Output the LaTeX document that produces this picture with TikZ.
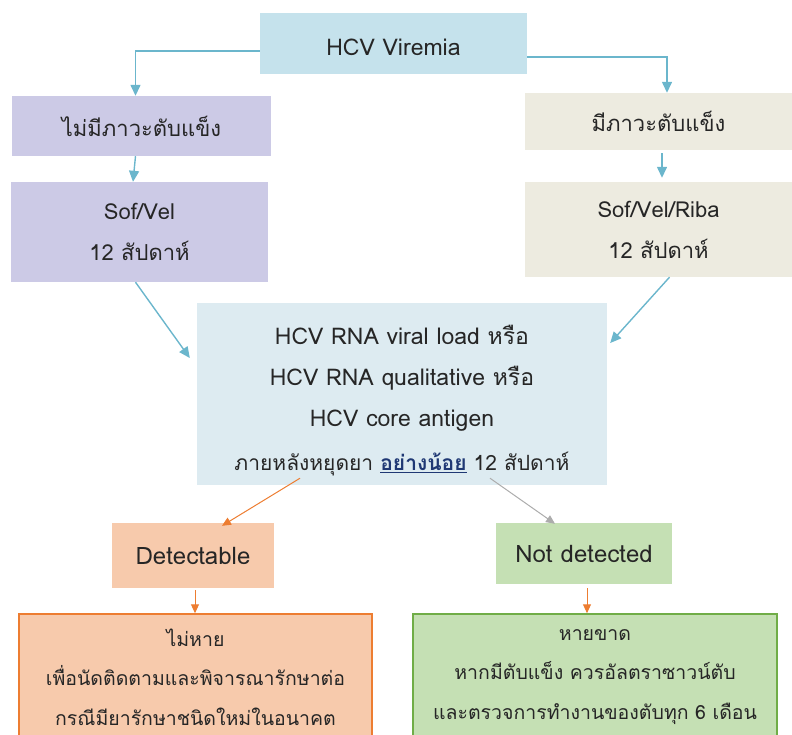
\documentclass[tikz,border=0pt]{standalone}
\usepackage{fontspec}
\setmainfont{Loma}[Script=Thai]
\usepackage{tikz}
\usetikzlibrary{arrows.meta}
\definecolor{viremia}{HTML}{C5E2EC}
\definecolor{lavender}{HTML}{CCCAE6}
\definecolor{beige}{HTML}{EDEBE0}
\definecolor{testblue}{HTML}{DDEBF1}
\definecolor{peach}{HTML}{F7CAAC}
\definecolor{mint}{HTML}{C5E0B4}
\definecolor{arrowblue}{HTML}{6BB6CC}
\definecolor{orange9}{HTML}{ED7D31}
\definecolor{green9}{HTML}{70AD47}
\definecolor{navy9}{HTML}{1F3874}

\begin{document}
\begin{tikzpicture}
  [x=1pt, y=-1pt,
   box/.style={inner sep=0pt, align=center, text=black!85,
               font=\fontsize{22}{41}\selectfont},
   conn/.style={-{Triangle[width=10pt,length=11pt]}, arrowblue, line width=1.4pt},
   hotconn/.style={-{Triangle[width=8pt,length=9pt]}, orange9, line width=1pt},
   coldconn/.style={-{Triangle[width=8pt,length=9pt]}, gray!65, line width=1pt}]

  \clip (0,0) rectangle (792,734);
  \useasboundingbox (0,0) rectangle (792,734);

  %Top and branch boxes
  \node[box, fill=viremia, minimum width=267pt, minimum height=61pt, text height=24pt, text depth=0pt,
        font=\fontsize{23}{26}\selectfont] (viremia) at (393.5,43.5) {HCV Viremia};
  \node[box, fill=lavender, minimum width=259pt, minimum height=60pt] (nocirr) at (141.5,126) {ไม่มีภาวะตับแข็ง};
  \node[box, fill=beige, minimum width=267pt, minimum height=57pt] (cirr) at (658.5,121.5) {มีภาวะตับแข็ง};
  \node[box, fill=lavender, minimum width=257pt, minimum height=100pt] (sofvel) at (139.5,232) {Sof/Vel\\12 สัปดาห์};
  \node[box, fill=beige, minimum width=267pt, minimum height=95pt] (sofvelriba) at (658.5,229.5) {Sof/Vel/Riba\\12 สัปดาห์};

  %Follow-up test box
  \node[box, fill=testblue, minimum width=410pt, minimum height=182pt] (test) at (402,394) {};
  \node[box, font=\fontsize{23}{41}\selectfont, anchor=north] (testtext) at (402,325)
    {HCV RNA viral load หรือ\\HCV RNA qualitative หรือ\\HCV core antigen\\[3pt]
     {\fontsize{21}{21}\selectfont ภายหลังหยุดยา \textcolor{navy9}{\textbf{\underline{อย่างน้อย}}} 12 สัปดาห์}};

  %Results
  \node[box, fill=peach, minimum width=162pt, minimum height=65pt,
        font=\fontsize{24}{26}\selectfont] (detect) at (193,555.5) {Detectable};
  \node[box, fill=mint, minimum width=176pt, minimum height=61pt,
        font=\fontsize{24}{26}\selectfont] (notdetect) at (584,553.5) {Not detected};
  \node[box, fill=peach, draw=orange9, line width=1.5pt, minimum width=353pt, minimum height=126pt,
        font=\fontsize{19.5}{39.5}\selectfont] (fail) at (195.5,677)
    {ไม่หาย\\เพื่อนัดติดตามและพิจารณารักษาต่อ\\กรณีมียารักษาชนิดใหม่ในอนาคต};
  \node[box, fill=mint, draw=green9, line width=1.5pt, minimum width=364pt, minimum height=126pt,
        font=\fontsize{19.5}{39.5}\selectfont] (cure) at (595,677)
    {หายขาด\\หากมีตับแข็ง ควรอัลตราซาวน์ตับ\\และตรวจการทำงานของตับทุก 6 เดือน};

  %Connectors
  \draw[conn] ([yshift=-7.5pt]viremia.west) -| ([xshift=-6pt]nocirr.north);
  \draw[conn] ([yshift=-13.5pt]viremia.east) -| ([xshift=8.5pt]cirr.north);
  \draw[conn] ([xshift=-6pt]nocirr.south) -- ([xshift=-6.5pt]sofvel.north);
  \draw[conn] ([xshift=3.5pt,yshift=-3pt]cirr.south) -- ([xshift=3.5pt,yshift=4pt]sofvelriba.north);
  \draw[conn] ([xshift=-4pt]sofvel.south) -- ([xshift=-7pt,yshift=36pt]test.west);
  \draw[conn] ([xshift=11pt]sofvelriba.south) -- ([xshift=3pt,yshift=51pt]test.east);
  \draw[hotconn] ([xshift=-102pt,yshift=7pt]test.south) -- ([xshift=29pt,yshift=-3pt]detect.north);
  \draw[coldconn] ([xshift=88pt,yshift=7pt]test.south) -- ([xshift=-29pt,yshift=-1pt]notdetect.north);
  \draw[hotconn] ([xshift=2pt,yshift=-2pt]detect.south) -- ([xshift=2pt]detect.south |- fail.north);
  \draw[hotconn] ([xshift=3pt,yshift=-4pt]notdetect.south) -- ([xshift=3pt]notdetect.south |- cure.north);
\end{tikzpicture}
\end{document}
